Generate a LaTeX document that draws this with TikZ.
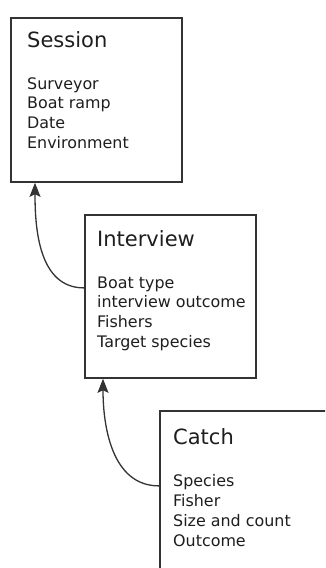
\documentclass[tikz,border=0pt]{standalone}
\usepackage{fontspec}
\setmainfont{DejaVu Sans}
\usetikzlibrary{arrows.meta}
\definecolor{boxline}{HTML}{333333}
\definecolor{txt}{HTML}{1E1E1E}
\tikzset{
  entity/.style={draw=boxline, line width=1.8pt, fill=white, inner sep=0pt, anchor=north west},
  title/.style={anchor=base west, inner sep=0pt, text=txt, font=\fontsize{21}{24}\selectfont},
  field/.style={anchor=base west, inner sep=0pt, text=txt, font=\fontsize{15.9}{19}\selectfont},
  link/.style={draw=boxline, line width=1.3pt, -{Stealth[length=14pt,width=11pt,inset=2.5pt]}}
}
\begin{document}
\begin{tikzpicture}[x=1pt,y=-1pt]
\useasboundingbox (0,0) rectangle (325,568);
\clip (0,0) rectangle (325,568);
\fill[white] (0,0) rectangle (325,568);
% Session
\node[entity, minimum width=171pt, minimum height=164pt] (ses) at (10,17) {};
\node[title] (sest) at (27,47) {Session};
\foreach \t [count=\i] in {Surveyor,Boat ramp,Date,Environment}
  \node[field] (sesf\i) at (27,89+19.7*\i-19.7) {\t};
% Interview
\node[entity, minimum width=171pt, minimum height=163pt] (iv) at (84,214) {};
\node[title] (ivt) at (97,246) {Interview};
\foreach \t [count=\i] in {Boat type,interview outcome,Fishers,Target species}
  \node[field] (ivf\i) at (97,288+19.7*\i-19.7) {\t};
% Catch
\node[entity, minimum width=190pt, minimum height=175pt] (ca) at (159,410) {};
\node[title] (cat) at (173,444) {Catch};
\foreach \t [count=\i] in {Species,Fisher,Size and count,Outcome}
  \node[field] (caf\i) at (173,486+20.3*\i-20.3) {\t};
% connectors
\draw[link] ([yshift=8.5pt]iv.west) to[out=180,in=-90] ([xshift=25pt]ses.south west);
\draw[link] ([yshift=12.5pt]ca.west) to[out=180,in=-90] ([xshift=19pt]iv.south west);
\end{tikzpicture}
\end{document}
